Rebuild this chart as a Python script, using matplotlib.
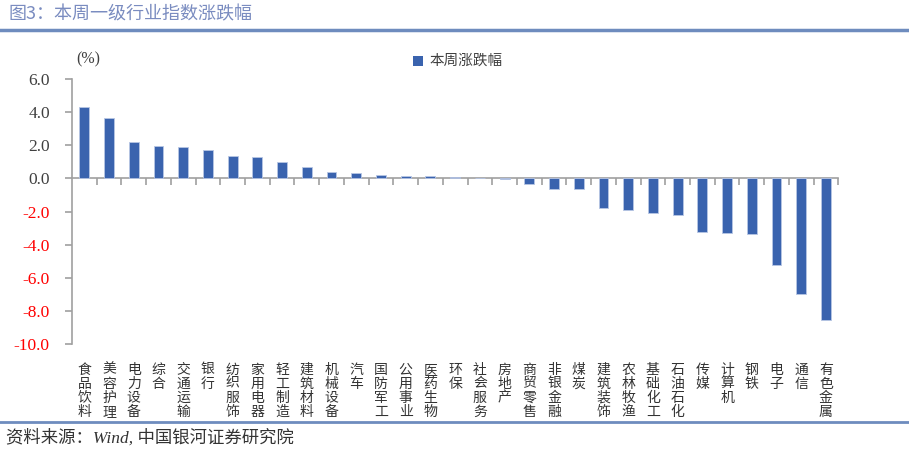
import matplotlib
matplotlib.use("Agg")
import matplotlib.pyplot as plt
from matplotlib.lines import Line2D
from matplotlib.patches import Rectangle
import logging
logging.getLogger("matplotlib.font_manager").setLevel(logging.ERROR)

categories = ["食品饮料", "美容护理", "电力设备", "综合", "交通运输", "银行", "纺织服饰", "家用电器",
              "轻工制造", "建筑材料", "机械设备", "汽车", "国防军工", "公用事业", "医药生物", "环保",
              "社会服务", "房地产", "商贸零售", "非银金融", "煤炭", "建筑装饰", "农林牧渔", "基础化工",
              "石油石化", "传媒", "计算机", "钢铁", "电子", "通信", "有色金属"]
values = [4.30, 3.67, 2.19, 1.95, 1.89, 1.69, 1.33, 1.27, 0.96, 0.68, 0.36, 0.30, 0.18, 0.14,
          0.12, 0.08, 0.02, -0.02, -0.34, -0.63, -0.65, -1.80, -1.93, -2.09, -2.19, -3.23,
          -3.28, -3.35, -5.24, -6.96, -8.55]
yticks = [6.0, 4.0, 2.0, 0.0, -2.0, -4.0, -6.0, -8.0, -10.0]
title = "图3：本周一级行业指数涨跌幅"
source = "资料来源：Wind, 中国银河证券研究院"
legend_label = "本周涨跌幅"

W, H = 909, 450
fig = plt.figure(figsize=(W / 100, H / 100), dpi=100)
cjk = ["Noto Sans CJK SC", "DejaVu Sans"]
serif = ["Liberation Serif", "Noto Sans CJK SC"]

# axes placement in pixels
x0, x1 = 72, 838.3
y_top, y_bot = 79, 344
ax = fig.add_axes([x0 / W, 1 - y_bot / H, (x1 - x0) / W, (y_bot - y_top) / H])

bar_color = "#3A63AE"
n = len(categories)
ax.bar(range(n), values, width=0.4, color=bar_color, edgecolor="#B7C6E4", linewidth=0.6, zorder=3)

ax.set_xlim(-0.5, n - 0.5)
ax.set_ylim(-10, 6)
ax.set_yticks(yticks)
ax.set_yticklabels([f"{v:.1f}" for v in yticks], fontfamily=serif, fontsize=12.5)
for lbl, v in zip(ax.get_yticklabels(), yticks):
    lbl.set_color("#FF0000" if v < 0 else "#404040")

gray = "#A0A0A0"
for s in ["top", "right"]:
    ax.spines[s].set_visible(False)
ax.spines["left"].set_color(gray)
ax.spines["left"].set_linewidth(1.2)
ax.spines["bottom"].set_position(("data", 0))
ax.spines["bottom"].set_color(gray)
ax.spines["bottom"].set_linewidth(1.2)
ax.tick_params(axis="y", direction="out", length=5, color=gray, width=1.2, pad=11)
ax.set_xticks([i + 0.5 for i in range(n)])
ax.set_xticklabels([])
ax.tick_params(axis="x", direction="out", length=5, color=gray, width=1.2)

# vertical category labels
for i, c in enumerate(categories):
    ax.text(i, -0.07, "\n".join(c), transform=ax.get_xaxis_transform(), ha="center", va="top",
            fontsize=10, fontfamily=cjk, color="#333333", linespacing=1.0)

ax.text(0.006, 1.075, "(%)", transform=ax.transAxes, ha="left", va="center",
        fontsize=11.5, fontfamily=serif, color="#404040")

# legend
fig.patches.append(Rectangle((413 / W, 1 - 66 / H), 10 / W, 10 / H, transform=fig.transFigure,
                             facecolor=bar_color, edgecolor="none"))
fig.text(429 / W, 1 - 61 / H, legend_label, ha="left", va="center", fontsize=10.5,
         fontfamily=cjk, color="#404040")

# title and rules
fig.text(8 / W, 1 - 14 / H, title, ha="left", va="center", fontsize=13,
         fontfamily=cjk, color="#7A8CC0")
fig.add_artist(Line2D([0, 1], [1 - 30 / H, 1 - 30 / H], transform=fig.transFigure,
                      color="#6E8CBE", linewidth=2.5))
fig.add_artist(Line2D([0, 1], [1 - 422 / H, 1 - 422 / H], transform=fig.transFigure,
                      color="#6E8CBE", linewidth=2.0))
fig.text(6 / W, 1 - 438 / H, source, ha="left", va="center", fontsize=12.5,
         fontfamily=["Liberation Serif", "Noto Sans CJK SC"], color="#333333", style="italic")

fig.savefig("out.png", dpi=100)
